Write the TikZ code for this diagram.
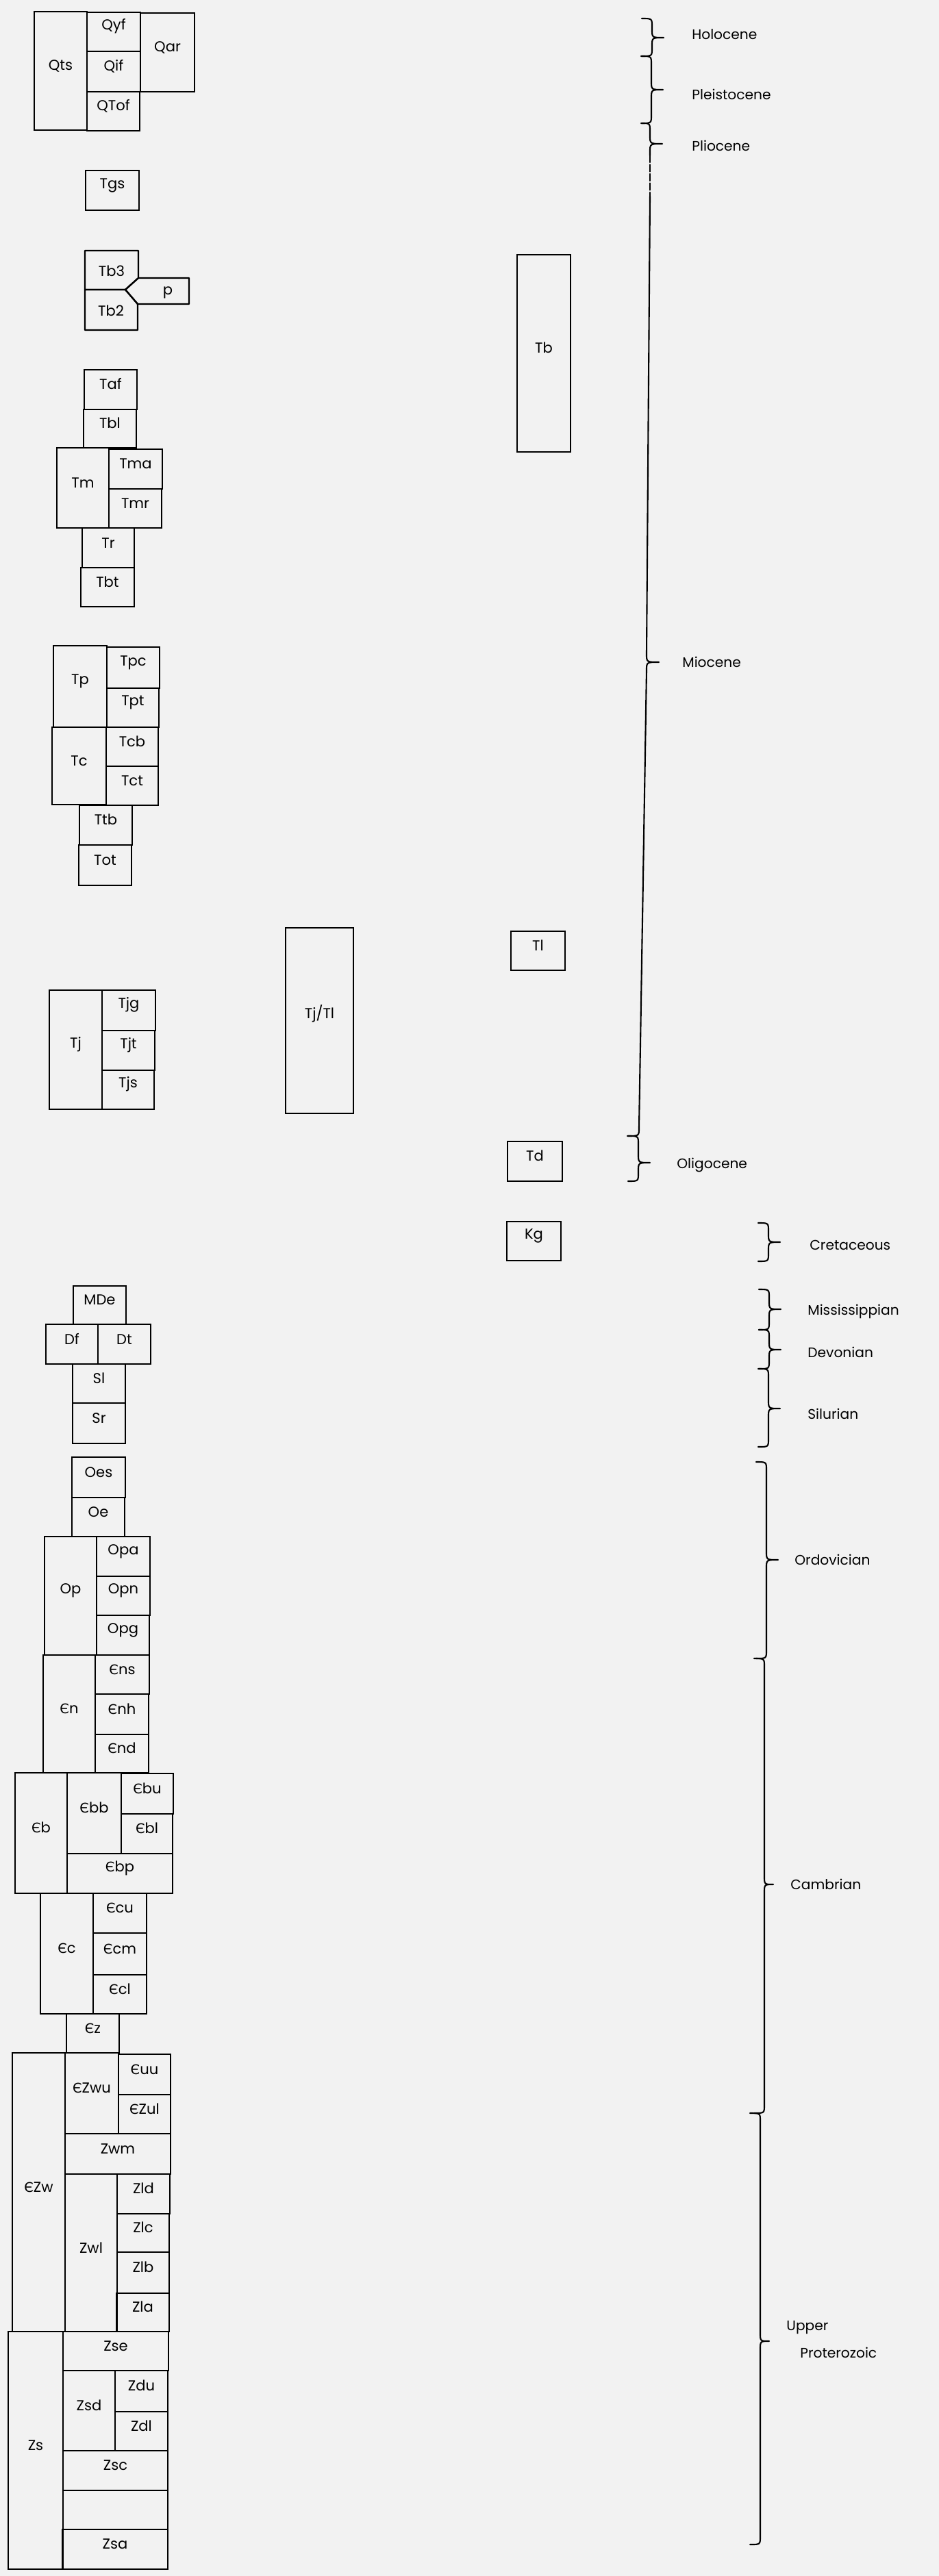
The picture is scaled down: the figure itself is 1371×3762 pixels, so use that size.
\documentclass[tikz,border=0pt]{standalone}
\usepackage{fontspec}
\setmainfont{Poppins}
\newfontfamily\cyrfont[Scale=0.92]{DejaVu Sans}
\usetikzlibrary{fit}
\newcommand{\Cm}{{\cyrfont Є}}
% one map unit: corners (x1,y1) (x2,y2), name, label
\newcommand{\unitbox}[6]{\node[unit, fit={(#1,#2) (#3,#4)}] (#5) {#6};}
% age brace: [tip width] line x, top, tip, bottom
\newcommand{\periodbrace}[5][17]{%
  \draw[brace] (#2-15,#3) .. controls (#2,#3) .. (#2,#3+12)
    -- (#2,#4-12) .. controls (#2,#4) .. (#2+#1,#4)
    .. controls (#2,#4) .. (#2,#4+12)
    -- (#2,#5-12) .. controls (#2,#5) .. (#2-15,#5);}
\tikzset{
  unit/.style={draw, line width=1.3pt, inner sep=0pt, font=\fontsize{12}{14}\selectfont},
  lbl/.style={inner sep=0pt, font=\fontsize{12}{14}\selectfont},
  epoch/.style={anchor=west, inner sep=0pt, font=\fontsize{11.5}{13}\selectfont},
  brace/.style={line width=1.2pt, line join=round, line cap=round}
}
\begin{document}
\begin{tikzpicture}[x=0.02cm,y=-0.02cm]
	\fill[black!5] (0,0) rectangle (1371,3762);
	\useasboundingbox (0,0) rectangle (1371,3762);
	% Quaternary
	\unitbox{50}{17}{127}{190}{qts}{Qts}
	\unitbox{127}{18}{205}{75}{qyf}{Qyf}
	\unitbox{127}{75}{205}{134}{qif}{Qif}
	\unitbox{127}{134}{204}{191}{qtof}{QTof}
	\unitbox{205}{19}{284}{134}{qar}{Qar}
	\unitbox{125}{249}{203}{307}{tgs}{Tgs}
	% Tb3, Tb2 and p
	\draw[line width=1.3pt, line join=round] (124,366) -- (202,366) -- (202,406) -- (183,423) -- (124,423) -- cycle;
	\draw[line width=1.3pt, line join=round] (124,423) -- (183,423) -- (201,444) -- (201,482) -- (124,482) -- cycle;
	\draw[line width=1.3pt, line join=round] (202,406) -- (276,406) -- (276,444) -- (201,444) -- (183,423) -- cycle;
	\node[lbl] (tb3) at (163,396) {Tb3};
	\node[lbl] (tb2) at (162,454) {Tb2};
	\node[lbl] (p) at (245,427) {p};
	% Tertiary column
	\unitbox{123}{540}{200}{598}{taf}{Taf}
	\unitbox{122}{598}{199}{654}{tbl}{Tbl}
	\unitbox{83}{654}{159}{771}{tm}{Tm}
	\unitbox{159}{656}{237}{714}{tma}{Tma}
	\unitbox{159}{714}{236}{771}{tmr}{Tmr}
	\unitbox{120}{771}{196}{829}{tr}{Tr}
	\unitbox{118}{829}{196}{886}{tbt}{Tbt}
	\unitbox{78}{943}{156}{1062}{tp}{Tp}
	\unitbox{156}{945}{233}{1005}{tpc}{Tpc}
	\unitbox{156}{1005}{232}{1062}{tpt}{Tpt}
	\unitbox{76}{1062}{155}{1175}{tc}{Tc}
	\unitbox{155}{1062}{231}{1119}{tcb}{Tcb}
	\unitbox{155}{1119}{231}{1176}{tct}{Tct}
	\unitbox{116}{1176}{193}{1234}{ttb}{Ttb}
	\unitbox{115}{1234}{192}{1293}{tot}{Tot}
	\unitbox{72}{1446}{149}{1620}{tj}{Tj}
	\unitbox{149}{1446}{227}{1505}{tjg}{Tjg}
	\unitbox{149}{1505}{226}{1563}{tjt}{Tjt}
	\unitbox{149}{1563}{225}{1620}{tjs}{Tjs}
	\unitbox{417}{1355}{516}{1626}{tjtl}{Tj/Tl}
	\unitbox{755}{372}{833}{660}{tb}{Tb}
	\unitbox{746}{1360}{825}{1417}{tl}{Tl}
	\unitbox{741}{1667}{821}{1725}{td}{Td}
	\unitbox{740}{1784}{819}{1841}{kg}{Kg}
	% Paleozoic
	\unitbox{107}{1878}{184}{1934}{mde}{MDe}
	\unitbox{67}{1934}{143}{1992}{df}{Df}
	\unitbox{143}{1934}{220}{1992}{dt}{Dt}
	\unitbox{106}{1992}{183}{2049}{sl}{Sl}
	\unitbox{106}{2049}{183}{2108}{sr}{Sr}
	\unitbox{105}{2128}{183}{2187}{oes}{Oes}
	\unitbox{105}{2187}{182}{2244}{oe}{Oe}
	\unitbox{65}{2244}{141}{2417}{op}{Op}
	\unitbox{141}{2244}{219}{2302}{opa}{Opa}
	\unitbox{141}{2302}{219}{2359}{opn}{Opn}
	\unitbox{141}{2359}{218}{2417}{opg}{Opg}
	\unitbox{63}{2417}{139}{2589}{cn}{\Cm n}
	\unitbox{139}{2417}{218}{2474}{cns}{\Cm ns}
	\unitbox{139}{2474}{217}{2533}{cnh}{\Cm nh}
	\unitbox{139}{2533}{217}{2589}{cnd}{\Cm nd}
	\unitbox{22}{2589}{98}{2765}{cb}{\Cm b}
	\unitbox{98}{2589}{177}{2707}{cbb}{\Cm bb}
	\unitbox{177}{2590}{253}{2649}{cbu}{\Cm bu}
	\unitbox{177}{2649}{252}{2707}{cbl}{\Cm bl}
	\unitbox{98}{2707}{252}{2765}{cbp}{\Cm bp}
	\unitbox{59}{2765}{136}{2941}{cc}{\Cm c}
	\unitbox{136}{2765}{214}{2823}{ccu}{\Cm cu}
	\unitbox{136}{2823}{214}{2884}{ccm}{\Cm cm}
	\unitbox{136}{2884}{214}{2941}{ccl}{\Cm cl}
	\unitbox{97}{2941}{174}{2998}{cz}{\Cm z}
	% Proterozoic
	\unitbox{18}{2998}{95}{3405}{czw}{\Cm Zw}
	\unitbox{95}{2998}{173}{3116}{czwu}{\Cm Zwu}
	\unitbox{173}{3000}{249}{3059}{cuu}{\Cm uu}
	\unitbox{173}{3059}{249}{3116}{czul}{\Cm Zul}
	\unitbox{95}{3116}{249}{3175}{zwm}{Zwm}
	\unitbox{95}{3175}{171}{3405}{zwl}{Zwl}
	\unitbox{171}{3175}{248}{3233}{zld}{Zld}
	\unitbox{171}{3233}{247}{3289}{zlc}{Zlc}
	\unitbox{171}{3289}{247}{3349}{zlb}{Zlb}
	\unitbox{170}{3349}{247}{3405}{zla}{Zla}
	\unitbox{12}{3405}{92}{3752}{zs}{Zs}
	\unitbox{92}{3405}{246}{3462}{zse}{Zse}
	\unitbox{92}{3462}{168}{3579}{zsd}{Zsd}
	\unitbox{168}{3462}{245}{3522}{zdu}{Zdu}
	\unitbox{168}{3522}{245}{3579}{zdl}{Zdl}
	\unitbox{92}{3579}{245}{3637}{zsc}{Zsc}
	\unitbox{92}{3637}{245}{3694}{zsb}{}
	\unitbox{91}{3694}{245}{3752}{zsa}{Zsa}
	% ages
	\periodbrace{952}{27}{55}{82}
	\periodbrace{951}{82}{131}{180}
	\draw[brace] (937,180) .. controls (949,180) .. (949,192) -- (949,198) .. controls (949,210) .. (967,210)
		.. controls (949,210) .. (949,222) -- (949,227);
	\draw[brace, dash pattern=on 0.2cm off 0.07cm] (949,227) -- (949,287);
	\draw[brace] (949,287) -- (944,955) .. controls (944,967) .. (962,967)
		.. controls (944,967) .. (944,979) -- (933,1647) .. controls (933,1659) .. (916,1659);
	\periodbrace{932}{1659}{1698}{1725}
	\periodbrace{1122}{1786}{1814}{1842}
	\periodbrace{1123}{1883}{1912}{1942}
	\periodbrace{1123}{1942}{1971}{1999}
	\periodbrace{1122}{1999}{2057}{2113}
	\periodbrace{1119}{2135}{2278}{2422}
	\periodbrace[13]{1116}{2422}{2752}{3086}
	\periodbrace[13]{1110}{3086}{3419}{3716}
	\node[epoch] (holocene) at (1010,50) {Holocene};
	\node[epoch] (pleistocene) at (1010,138) {Pleistocene};
	\node[epoch] (pliocene) at (1010,213) {Pliocene};
	\node[epoch] (miocene) at (996,967) {Miocene};
	\node[epoch] (oligocene) at (988,1702) {Oligocene};
	\node[epoch] (cretaceous) at (1182,1818) {Cretaceous};
	\node[epoch] (mississippian) at (1179,1915) {Mississippian};
	\node[epoch] (devonian) at (1179,1975) {Devonian};
	\node[epoch] (silurian) at (1179,2065) {Silurian};
	\node[epoch] (ordovician) at (1160,2278) {Ordovician};
	\node[epoch] (cambrian) at (1154,2752) {Cambrian};
	\node[epoch] (upper) at (1148,3399) {Upper};
	\node[epoch] (proterozoic) at (1168,3436) {Proterozoic};
\end{tikzpicture}
\end{document}
